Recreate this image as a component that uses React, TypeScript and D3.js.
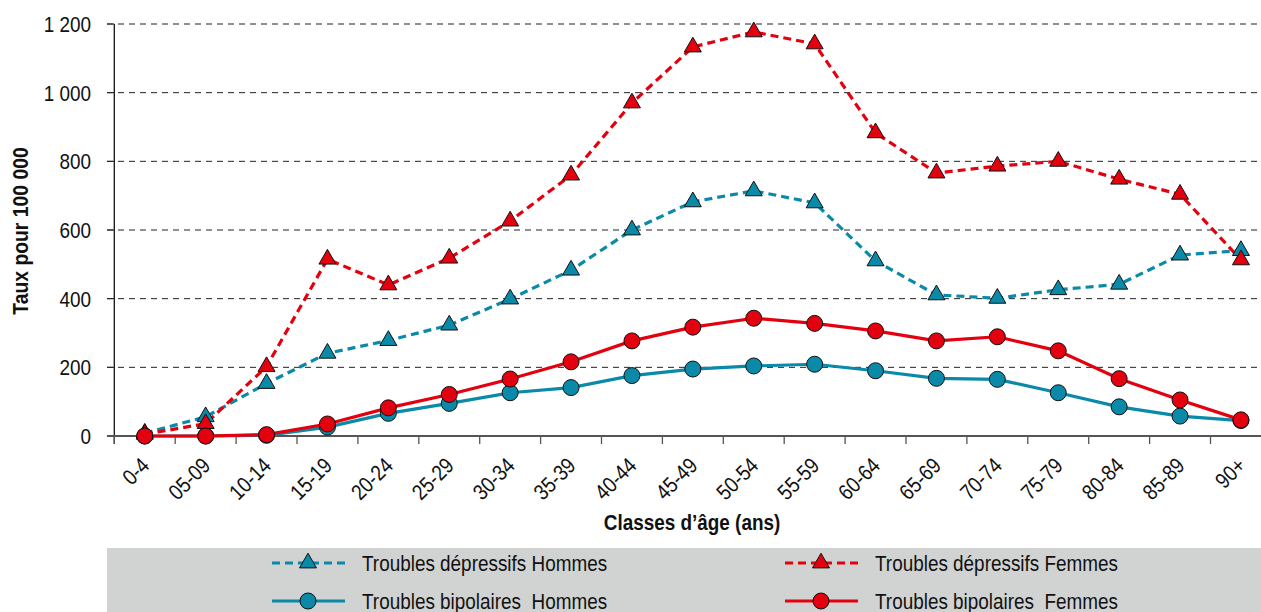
import React from "react";
import * as d3 from "d3";

const categories = ["0-4","05-09","10-14","15-19","20-24","25-29","30-34","35-39","40-44","45-49","50-54","55-59","60-64","65-69","70-74","75-79","80-84","85-89","90+"];
const depHommes = [8,56,153,241,278,323,399,483,600,682,714,679,510,411,401,426,442,527,540];
const depFemmes = [5,36,202,515,440,518,626,760,970,1133,1177,1142,883,766,786,800,748,704,513];
const bipHommes = [0,0,2,26,66,95,126,141,176,195,204,209,190,168,165,126,85,58,45];
const bipFemmes = [0,0,4,35,82,121,166,216,277,317,343,328,306,277,289,248,167,105,47];
const yTicks = [0,200,400,600,800,1000,1200];
const yTickLabels = ["0","200","400","600","800","1 000","1 200"];

const TEAL = "#0a8aa8";
const RED = "#e3000f";
const FONT = "'Liberation Sans', Arial, sans-serif";
const SX = 0.86;

const W = 1261, H = 612;
const x0 = 114.3, bw = 60.9;

function CText(props: { x: number; y: number; rot?: number; anchor?: string; bold?: boolean; size?: number; children: React.ReactNode }) {
  const { x, y, rot, anchor, bold, size, children } = props;
  return (
    <text transform={`translate(${x},${y})${rot ? ` rotate(${rot})` : ""} scale(${SX},1)`}
      textAnchor={anchor || "start"} fontSize={size || 22} fontWeight={bold ? "bold" : "normal"} fill="#111"
      style={{ whiteSpace: "pre" }}>{children}</text>
  );
}

export default function App() {
  const x = d3.scaleBand<string>().domain(categories).range([x0, x0 + bw * categories.length]).padding(0);
  const y = d3.scaleLinear().domain([0, 1200]).range([436, 24]);
  const cx = (c: string) => (x(c) as number) + x.bandwidth() / 2;
  const line = d3.line<number>().x((_, i) => cx(categories[i])).y(v => y(v));
  const tri = d3.symbol().type(d3.symbolTriangle).size(125)();
  const series = [
    { data: depHommes, color: TEAL, dashed: true, marker: "tri" },
    { data: depFemmes, color: RED, dashed: true, marker: "tri" },
    { data: bipHommes, color: TEAL, dashed: false, marker: "circ" },
    { data: bipFemmes, color: RED, dashed: false, marker: "circ" },
  ];
  const legend = [
    { label: "Troubles dépressifs Hommes", color: TEAL, dashed: true, marker: "tri", lx: 272, ly: 563 },
    { label: "Troubles dépressifs Femmes", color: RED, dashed: true, marker: "tri", lx: 785, ly: 563 },
    { label: "Troubles bipolaires  Hommes", color: TEAL, dashed: false, marker: "circ", lx: 272, ly: 601 },
    { label: "Troubles bipolaires  Femmes", color: RED, dashed: false, marker: "circ", lx: 785, ly: 601 },
  ];
  const edges = categories.map(c => x(c) as number).concat([x0 + bw * categories.length]);
  return (
    <svg width={W} height={H} style={{ position: "absolute", left: 0, top: 0, background: "#fff" }} fontFamily={FONT}>
      {yTicks.filter(t => t > 0).map(t => (
        <line key={t} x1={107} x2={W} y1={y(t)} y2={y(t)} stroke="#222" strokeWidth={1} strokeDasharray="6,5" />
      ))}
      {yTicks.map((t, i) => (
        <g key={"yt" + t}>
          <line x1={107} x2={x0} y1={y(t)} y2={y(t)} stroke="#222" strokeWidth={1} />
          <CText x={91} y={y(t) + 8} anchor="end">{yTickLabels[i]}</CText>
        </g>
      ))}
      <line x1={x0} x2={x0} y1={y(1200)} y2={y(0) + 8} stroke="#111" strokeWidth={1.3} />
      <line x1={107} x2={W} y1={y(0)} y2={y(0)} stroke="#555" strokeWidth={2} />
      {edges.map((e, i) => (
        <line key={"xt" + i} x1={e} x2={e} y1={y(0)} y2={y(0) + 8} stroke="#555" strokeWidth={1.3} />
      ))}
      {categories.map(c => (
        <CText key={"xl" + c} x={cx(c) + 6} y={467} rot={-45} anchor="end">{c}</CText>
      ))}
      <CText x={692} y={530} anchor="middle" bold>Classes d’âge (ans)</CText>
      <text transform={`translate(28,${231}) rotate(-90) scale(0.88,1)`} textAnchor="middle" fontSize={22} fontWeight="bold" fill="#111">Taux pour 100 000</text>
      {series.map((s, si) => (
        <path key={"s" + si} d={line(s.data) as string} fill="none" stroke={s.color} strokeWidth={3.2}
          strokeDasharray={s.dashed ? "8,5" : undefined} />
      ))}
      {series.map((s, si) => (
        <g key={"m" + si}>
          {s.data.map((v, i) => s.marker === "tri" ? (
            <path key={i} d={tri as string} transform={`translate(${cx(categories[i])},${y(v)})`} fill={s.color} stroke="#111" strokeWidth={1} />
          ) : (
            <circle key={i} cx={cx(categories[i])} cy={y(v)} r={8} fill={s.color} stroke="#111" strokeWidth={1} />
          ))}
        </g>
      ))}
      <rect x={107} y={548} width={W - 107} height={H - 548} fill="#d1d3d3" />
      {legend.map((l, i) => (
        <g key={"lg" + i}>
          <line x1={l.lx} x2={l.lx + 73} y1={l.ly} y2={l.ly} stroke={l.color} strokeWidth={3.2} strokeDasharray={l.dashed ? "8,5" : undefined} />
          {l.marker === "tri" ? (
            <path d={tri as string} transform={`translate(${l.lx + 36},${l.ly})`} fill={l.color} stroke="#111" strokeWidth={1} />
          ) : (
            <circle cx={l.lx + 36} cy={l.ly} r={8} fill={l.color} stroke="#111" strokeWidth={1} />
          )}
          <CText x={l.lx + 90} y={l.ly + 8}>{l.label}</CText>
        </g>
      ))}
    </svg>
  );
}
